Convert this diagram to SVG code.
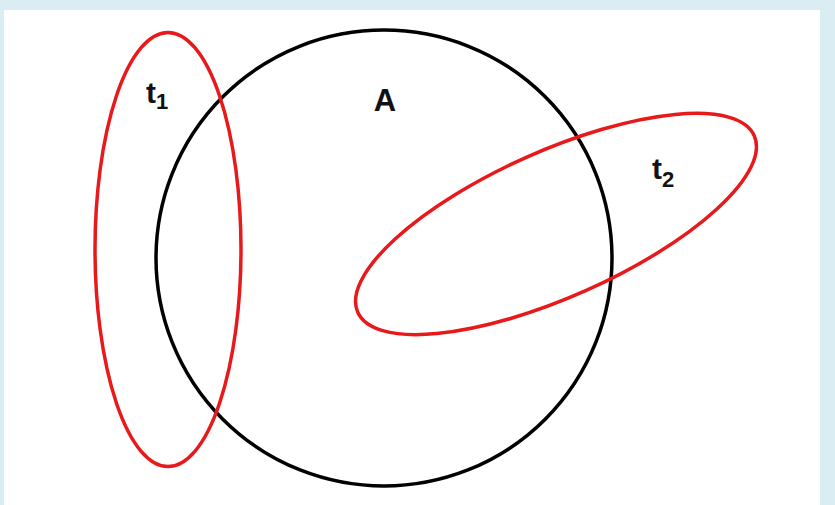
<svg xmlns="http://www.w3.org/2000/svg" width="835" height="505" viewBox="0 0 835 505">
<style>
.lbl{font-family:"Liberation Sans",Arial,sans-serif;font-weight:bold;fill:#111;}
.red{fill:none;stroke:#e8191b;stroke-width:3.5;}
.blk{fill:none;stroke:#000;stroke-width:3.5;}
</style>
<rect x="0" y="0" width="835" height="505" fill="#d9edf3"/>
<rect x="4" y="10" width="816" height="495" fill="#ffffff"/>
<g id="A">
<circle class="blk" cx="384" cy="258" r="228"/>
<text class="lbl" x="385" y="111" font-size="31" text-anchor="middle">A</text>
</g>
<g id="t1">
<ellipse class="red" cx="168" cy="249.5" rx="73" ry="217"/>
<text class="lbl" x="146" y="103" font-size="30">t<tspan font-size="22" dy="6">1</tspan></text>
</g>
<g id="t2">
<ellipse class="red" cx="556" cy="224" rx="217" ry="73" transform="rotate(-24 556 224)"/>
<text class="lbl" x="652" y="179" font-size="30">t<tspan font-size="22" dy="8">2</tspan></text>
</g>
<g id="connectors"/>
</svg>
